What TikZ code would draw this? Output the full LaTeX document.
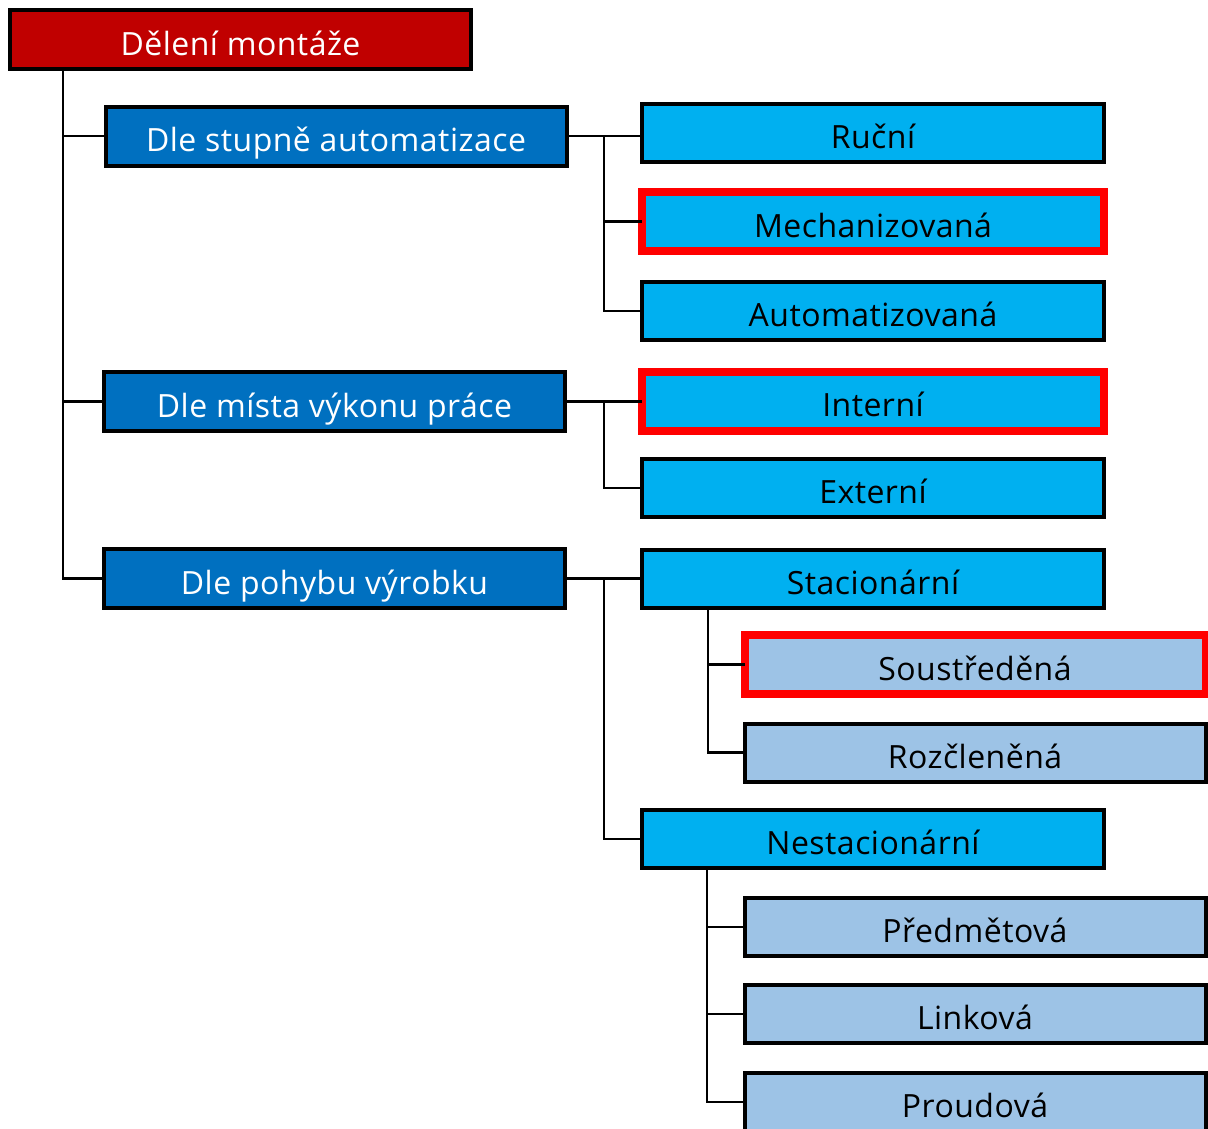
\documentclass[tikz,border=0pt]{standalone}
\usepackage{fontspec}
\setmainfont{Open Sans}[LetterSpace=1.5]
\begin{document}
\begin{tikzpicture}[x=1pt,y=-1pt,
  box/.style={draw=black,line width=4pt,rectangle,inner sep=0pt,outer sep=0pt,
    font=\fontsize{32}{38}\selectfont,text height=31pt,text depth=0pt},
  rootbox/.style={box,fill=rootred,text=white,minimum width=461pt,minimum height=59pt},
  lvlone/.style={box,fill=darkblue,text=white,minimum width=461pt,minimum height=59pt},
  lvltwo/.style={box,fill=midblue,text=black,minimum width=462pt,minimum height=58pt},
  lvlthree/.style={box,fill=paleblue,text=black,minimum width=461pt,minimum height=58pt},
  hilite/.style={draw=hired,line width=8pt,minimum height=59pt},
  link/.style={draw=black,line width=2.5pt}]
\definecolor{rootred}{HTML}{C00000}
\definecolor{darkblue}{HTML}{0070C0}
\definecolor{midblue}{HTML}{00B0F0}
\definecolor{paleblue}{HTML}{9DC3E6}
\definecolor{hired}{HTML}{FF0000}
\clip (0,0) rectangle (1208,1128);
\fill[white] (0,0) rectangle (1208,1128);

% root
\node[rootbox] (root) at (240.5,39.5) {Dělení montáže};

% first level
\node[lvlone] (stup) at (336,136) {Dle stupně automatizace};
\node[lvlone] (mist) at (334.5,401.5) {Dle místa výkonu práce};
\node[lvlone] (pohy) at (334.5,578.5) {Dle pohybu výrobku};

% second level
\node[lvltwo] (rucn) at (873,133) {Ruční};
\node[lvltwo,hilite] (mech) at (873,221.5) {Mechanizovaná};
\node[lvltwo] (auto) at (873,311) {Automatizovaná};
\node[lvltwo,hilite] (inte) at (873,401) {Interní};
\node[lvltwo] (exte) at (873,488) {Externí};
\node[lvltwo] (stac) at (873,579) {Stacionární};
\node[lvltwo] (nest) at (873,839) {Nestacionární};

% third level
\node[lvlthree,hilite] (sous) at (975,664.5) {Soustředěná};
\node[lvlthree] (rozc) at (975,752.5) {Rozčleněná};
\node[lvlthree] (pred) at (975,927) {Předmětová};
\node[lvlthree] (link) at (975,1014) {Linková};
\node[lvlthree] (prou) at (975,1102) {Proudová};

% bus lines
\coordinate (trunk) at (63,0);
\coordinate (busa) at (604,0);
\coordinate (busb) at (708,0);
\coordinate (busc) at (707,0);

\draw[link] (trunk |- root.south) |- (pohy.west);
\draw[link] (trunk |- stup.west) -- (stup.west);
\draw[link] (trunk |- mist.west) -- (mist.west);

\draw[link] (stup.east) -- (rucn.west |- stup.east);
\draw[link] (busa |- stup.east) |- (auto.west);
\draw[link] (busa |- mech.west) -- (mech.west);

\draw[link] (mist.east) -- (inte.west |- mist.east);
\draw[link] (busa |- mist.east) |- (exte.west);

\draw[link] (pohy.east) -- (stac.west |- pohy.east);
\draw[link] (busa |- pohy.east) |- (nest.west);

\draw[link] (busb |- stac.south) |- (rozc.west);
\draw[link] (busb |- sous.west) -- (sous.west);

\draw[link] (busc |- nest.south) |- (prou.west);
\draw[link] (busc |- pred.west) -- (pred.west);
\draw[link] (busc |- link.west) -- (link.west);
\end{tikzpicture}
\end{document}
